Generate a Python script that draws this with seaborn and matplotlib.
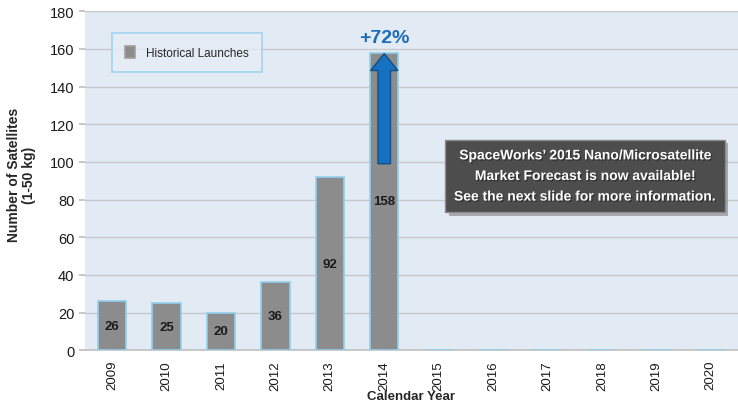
import matplotlib
matplotlib.use("Agg")
import matplotlib.pyplot as plt
import matplotlib.patheffects as pe
import seaborn as sns
import pandas as pd
from matplotlib.patches import FancyArrow

years = ["2009", "2010", "2011", "2012", "2013", "2014", "2015", "2016", "2017", "2018", "2019", "2020"]
launches = [26, 25, 20, 36, 92, 158, 0, 0, 0, 0, 0, 0]
bar_labels = ["26", "25", "20", "36", "92", "158"]
arrow_from = 99
arrow_to = 158
growth_text = "+72%"
yticks = [0, 20, 40, 60, 80, 100, 120, 140, 160, 180]

sns.set_theme(style="white")
plt.rcParams['font.family'] = ['Liberation Sans Narrow', 'Liberation Sans', 'DejaVu Sans']

df = pd.DataFrame({"Year": years, "Launches": launches})

fig = plt.figure(figsize=(7.38, 4.06), dpi=100)
ax = fig.add_axes([0.115, 0.135, 0.885, 0.835])
ax.set_facecolor("#E2EAF4")

sns.barplot(data=df, x="Year", y="Launches", ax=ax, color="#8C8C8C",
            width=0.52, edgecolor="#8FD0EE", linewidth=1.2, saturation=1,
            label="Historical Launches", zorder=3)

ax.set_ylim(0, 180)
ax.set_xlim(-0.5, 11.5)
ax.set_yticks(yticks)
ax.yaxis.grid(True, color="#C8C8CC", linewidth=1.0, zorder=0)
ax.set_axisbelow(True)
for s in ["top", "right", "left"]:
    ax.spines[s].set_visible(False)
ax.spines["bottom"].set_color("#BFBFBF")
ax.spines["bottom"].set_linewidth(1.2)

ax.set_xticks([i - 0.5 for i in range(13)], minor=True)
ax.tick_params(axis="x", which="minor", length=5, color="#BFBFBF", width=1)
ax.tick_params(axis="x", which="major", length=0, labelsize=9.5, rotation=90, pad=7)
ax.tick_params(axis="y", which="major", length=4, color="#BFBFBF", labelsize=10.5, left=True)
for lab in ax.get_xticklabels() + ax.get_yticklabels():
    lab.set_color("#1A1A1A")

ax.set_xlabel("Calendar Year", fontsize=9.5, fontweight="bold")
ax.xaxis.set_label_coords(0.5, -0.118)
ax.set_ylabel("Number of Satellites\n(1-50 kg)", fontsize=10, fontweight="bold", linespacing=1.1)
ax.yaxis.set_label_coords(-0.075, 0.52)

for i, t in enumerate(bar_labels):
    ax.text(i, launches[i] / 2, t, ha="center", va="center", fontsize=9.5,
            fontweight="bold", color="#1A1A1A", zorder=5)

# arrow on 2014 bar
ax.add_patch(FancyArrow(5, arrow_from, 0, arrow_to - arrow_from - 0.5, width=0.23,
                        head_width=0.5, head_length=9, length_includes_head=True,
                        facecolor="#1672C0", edgecolor="#0E4F8A", linewidth=1, zorder=6))
ax.text(5, 166, growth_text, ha="center", va="center", fontsize=14, fontweight="bold",
        color="#1C6DB8", zorder=6)

# info box with a soft shadow
box_text = "SpaceWorks’ 2015 Nano/Microsatellite\nMarket Forecast is now available!\nSee the next slide for more information."
info = ax.text(8.69, 92.5, box_text,
               ha="center", va="center", fontsize=10, fontweight="bold", color="white",
               linespacing=1.6, zorder=7,
               bbox=dict(boxstyle="square,pad=0.62", facecolor="#4D4D4D", edgecolor="#8A8A8A", linewidth=1))
info.get_bbox_patch().set_path_effects([pe.SimplePatchShadow(offset=(2.5, -2.5), shadow_rgbFace="#808080", alpha=0.6),
                                        pe.Normal()])
info.set_path_effects([pe.withSimplePatchShadow(offset=(1, -1), shadow_rgbFace="#222222", alpha=0.6)])

leg = ax.legend(loc="upper left", bbox_to_anchor=(0.041, 0.935), frameon=True, fontsize=8.5,
                fancybox=False, borderpad=1.1, handlelength=0.9, handleheight=1.2,
                handletextpad=0.9, borderaxespad=0)
leg.get_frame().set_edgecolor("#8FD0EE")
leg.get_frame().set_facecolor("#E6EDF6")
leg.get_frame().set_linewidth(1.2)
for h in leg.legend_handles:
    h.set_edgecolor("#A0A0A0")

fig.savefig("out.png", dpi=100, facecolor="white")
